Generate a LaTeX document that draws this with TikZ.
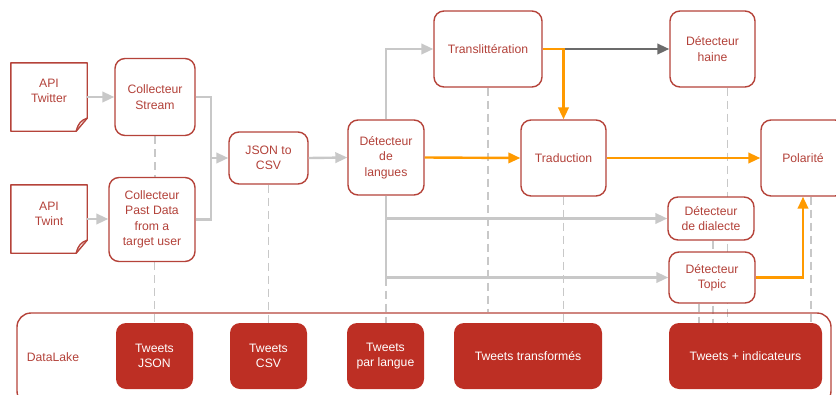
\documentclass[tikz,border=0pt]{standalone}
\usepackage{fontspec}
\setmainfont{Liberation Sans}
\usetikzlibrary{arrows.meta}
\pgfdeclarelayer{behind}
\pgfsetlayers{behind,main}
\definecolor{edgered}{HTML}{B5433A}
\definecolor{labelred}{HTML}{B3423A}
\definecolor{solidred}{HTML}{BD2F24}
\definecolor{flowgray}{HTML}{C8C8C8}
\definecolor{darkflow}{HTML}{6B6B6B}
\definecolor{flowor}{HTML}{FF9A00}
\newcommand\dgfont{\fontsize{12.2}{15.4}\selectfont}
\begin{document}
\begin{tikzpicture}[x=1pt,y=-1pt,
  procbox/.style={draw=edgered, line width=1.4pt, rounded corners=10pt, fill=white,
    text=labelred, align=center, font=\dgfont, inner sep=0pt},
  storebox/.style={fill=solidred, rounded corners=10pt, text=white, align=center,
    font=\dgfont, inner sep=0pt, minimum height=66pt},
  plainlbl/.style={text=labelred, align=center, font=\dgfont, inner sep=0pt},
  apiframe/.style={draw=edgered, line width=1.4pt, line join=round},
  lifeline/.style={draw=flowgray, line width=1.8pt, dash pattern=on 8pt off 5pt},
  flowtip/.style={-{Triangle[length=12pt,width=10.5pt]}},
  grayflow/.style={draw=flowgray, line width=2.4pt, flowtip},
  grayline/.style={draw=flowgray, line width=2.4pt},
  darkarrow/.style={draw=darkflow, line width=2.4pt, flowtip},
  orflow/.style={draw=flowor, line width=2.4pt, flowtip}
]
\useasboundingbox (0,0) rectangle (836,394);

% --- DataLake frame
\node[draw=edgered, line width=1.4pt, rounded corners=14pt, minimum width=814pt,
      minimum height=92pt, inner sep=0pt] (lake) at (424,359) {};
\node[plainlbl] (lakelbl) at (53,357) {DataLake};

% --- API sources (frames with a folded corner)
\node[minimum width=76pt, minimum height=68pt, inner sep=0pt] (apitw) at (49,97) {};
\node[minimum width=76pt, minimum height=68pt, inner sep=0pt] (apitn) at (49,219) {};
\foreach \api in {apitw,apitn}{
  \draw[apiframe] (\api.north west) -- (\api.north east) -- ([yshift=13pt]\api.south east)
    -- ([xshift=-11pt]\api.south east) -- (\api.south west) -- cycle;
  \draw[apiframe] ([yshift=13pt]\api.south east)
    .. controls ([xshift=-6pt,yshift=11pt]\api.south east) and ([xshift=-9pt,yshift=8pt]\api.south east)
    .. ([xshift=-11pt]\api.south east);
}
\node[plainlbl] (apitwlbl) at ([yshift=6pt]apitw.center) {API\\Twitter};
\node[plainlbl] (apitnlbl) at ([yshift=5pt]apitn.center) {API\\Twint};

% --- stores in the lake
\node[storebox, minimum width=77pt]  (tjson)  at (154.5,356) {Tweets\\JSON};
\node[storebox, minimum width=77pt]  (tcsv)   at (268.5,356) {Tweets\\CSV};
\node[storebox, minimum width=77pt]  (tlang)  at (385.5,356) {Tweets\\par langue};
\node[storebox, minimum width=148pt] (ttrans) at (528,356)   {Tweets transformés};
\node[storebox, minimum width=153pt] (tind)   at (745.5,356) {Tweets + indicateurs};

% --- processing steps
\path
  node[procbox, minimum width=80pt, minimum height=77pt] (stream)   at (155,97)    {Collecteur\\Stream}
  node[procbox, minimum width=86pt, minimum height=84pt] (past)     at (152,219.5) {Collecteur\\Past Data\\from a\\target user}
  node[procbox, minimum width=79pt, minimum height=52pt] (json)     at (268.5,158) {JSON to\\CSV}
  node[procbox, minimum width=76pt, minimum height=75pt] (lang)     at (386,157.5) {Détecteur\\de\\langues}
  node[procbox, minimum width=108pt, minimum height=76pt] (translit) at (488,49)   {Translittération}
  node[procbox, minimum width=85pt, minimum height=76pt] (trad)     at (563.5,158) {Traduction}
  node[procbox, minimum width=85pt, minimum height=76pt] (haine)    at (712.5,49)  {Détecteur\\haine}
  node[procbox, minimum width=84pt, minimum height=76pt] (polar)    at (803,158)   {Polarité}
  node[procbox, minimum width=86pt, minimum height=43pt] (dialecte) at (711,218.5) {Détecteur\\de dialecte}
  node[procbox, minimum width=86pt, minimum height=51pt] (topic)    at (712,277.5) {Détecteur\\Topic};

% --- dashed lifelines down to the lake, kept behind the boxes
\coordinate (langfork) at (lang.south |- topic.west);
\coordinate (hainefoot) at ([xshift=15pt]haine.south);
\coordinate (dialfoot) at ([xshift=2pt]dialecte.south);
\coordinate (topicfoot) at ([xshift=-13pt]topic.south);
\coordinate (polarfoot) at ([xshift=8pt]polar.south);
\begin{pgfonlayer}{behind}
  \draw[lifeline] (stream.south) -- (stream.south |- past.north);
  \draw[lifeline] (past.south -| tjson.north) -- (tjson.north);
  \draw[lifeline] (json.south) -- (json.south |- tcsv.north);
  \draw[lifeline] (langfork) -- (langfork |- tlang.north);
  \draw[lifeline] (translit.south) -- (translit.south |- lake.north);
  \draw[lifeline] (trad.south) -- (trad.south |- ttrans.north);
  \draw[lifeline] (hainefoot) -- (hainefoot |- tind.north);
  \draw[lifeline] (dialfoot) -- (dialfoot |- tind.north);
  \draw[lifeline] (topicfoot) -- (topicfoot |- tind.north);
  \draw[lifeline] (polarfoot) -- (polarfoot |- tind.north);
\end{pgfonlayer}

% --- data flow
\coordinate (merge) at (211,158);
\draw[grayflow] (apitw.east) -- (apitw.east -| stream.west);
\draw[grayflow] (apitn.east) -- (apitn.east -| past.west);
\draw[grayline, line join=miter] (stream.east) -| (merge);
\draw[grayline, line join=miter] (past.east) -| (merge);
\draw[grayflow] (merge) -- (json.west);
\draw[grayflow] (json.east) -- (lang.west);
\draw[grayflow] (lang.north) |- (translit.west);
\draw[grayflow] (lang.south) |- (dialecte.west);
\draw[grayflow] (lang.south) |- (topic.west);
\draw[darkarrow] (trad.north |- translit.east) -- (haine.west);
\draw[orflow] (translit.east) -| (trad.north);
\draw[orflow] (lang.east) -- (trad.west);
\draw[orflow] (trad.east) -- (polar.west);
\draw[orflow] (topic.east) -| (polar.south);
\end{tikzpicture}
\end{document}
